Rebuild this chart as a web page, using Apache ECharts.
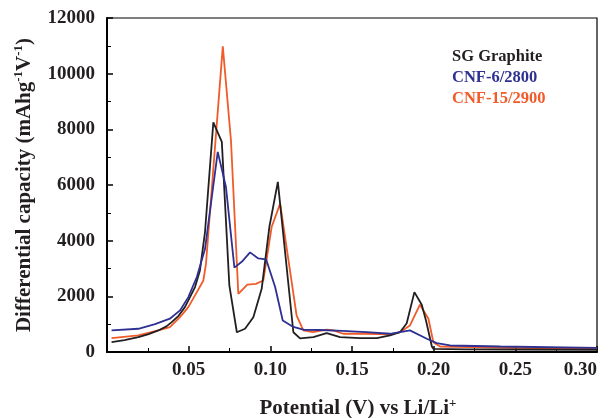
<!DOCTYPE html>
<html>
<head>
<meta charset="utf-8">
<script src="https://cdn.jsdelivr.net/npm/echarts@6/dist/echarts.min.js"></script>
<style>html,body{margin:0;padding:0;background:#fff;}#c{width:609px;height:418px;}</style>
</head>
<body>
<div id="c"></div>
<script>
const seriesNames = ['SG Graphite', 'CNF-6/2800', 'CNF-15/2900'];

const sgX = [0.0028, 0.0107, 0.0192, 0.0255, 0.0314, 0.0364, 0.0396, 0.0438, 0.0477, 0.0539, 0.0569, 0.0600, 0.0651, 0.0703, 0.0749, 0.0795, 0.0845, 0.0896, 0.0947, 0.0994, 0.1046, 0.1141, 0.1182, 0.1263, 0.1345, 0.1427, 0.1549, 0.1652, 0.1733, 0.1794, 0.1835, 0.1882, 0.1927, 0.1953, 0.1989, 0.1998, 0.22, 0.25, 0.30];
const sgY = [353, 430, 532, 640, 774, 920, 1072, 1300, 1612, 2331, 2932, 4310, 8250, 7550, 2390, 710, 835, 1250, 2270, 4490, 6110, 710, 490, 532, 676, 532, 497, 497, 594, 712, 1036, 2152, 1698, 1133, 198, 115, 95, 90, 80];

const cnf6X = [0.0028, 0.0192, 0.0294, 0.0385, 0.0447, 0.0498, 0.0550, 0.0600, 0.0678, 0.0728, 0.0780, 0.0825, 0.0876, 0.0926, 0.0974, 0.1029, 0.1076, 0.1141, 0.1202, 0.1305, 0.1441, 0.1589, 0.1733, 0.1855, 0.1958, 0.2019, 0.2100, 0.2407, 0.30];
const cnf6Y = [774, 835, 1000, 1196, 1494, 1972, 2694, 3700, 7190, 5940, 3030, 3240, 3580, 3360, 3330, 2345, 1130, 900, 800, 790, 760, 714, 655, 775, 475, 317, 234, 198, 151];

const cnf15X = [0.0028, 0.0192, 0.0314, 0.0385, 0.0447, 0.0498, 0.0550, 0.0590, 0.0606, 0.0709, 0.0759, 0.0804, 0.0859, 0.0912, 0.0957, 0.1008, 0.1060, 0.1161, 0.1202, 0.1261, 0.1345, 0.1386, 0.1447, 0.1589, 0.1733, 0.1794, 0.1855, 0.1916, 0.1968, 0.1998, 0.2039, 0.25, 0.30];
const cnf15Y = [497, 594, 774, 895, 1253, 1612, 2152, 2570, 3170, 10980, 7600, 2090, 2420, 2450, 2570, 4490, 5330, 1310, 775, 715, 800, 775, 655, 655, 630, 714, 955, 1700, 1196, 353, 198, 150, 115];

const xTicks = ['0.05', '0.10', '0.15', '0.20', '0.25', '0.30'];
const yTicks = ['0', '2000', '4000', '6000', '8000', '10000', '12000'];

const colors = ['#231f20', '#2e3192', '#f15a29'];
const FONT = '"Liberation Serif", "Times New Roman", serif';

function pairs(xs, ys) { return xs.map((x, i) => [x, ys[i]]); }

const nameRich = {
  a: {fontFamily: FONT, fontWeight: 'bold', fontSize: 21, color: '#231f20', lineHeight: 24},
  s: {fontFamily: FONT, fontWeight: 'bold', fontSize: 13, color: '#231f20', verticalAlign: 'top', lineHeight: 24, padding: [0, 0, 11, 0]}
};

const chart = echarts.init(document.getElementById('c'), null, {renderer: 'canvas'});
const axisLineStyle = {color: '#000', width: 2};
chart.setOption({
  animation: false,
  grid: {left: 107, top: 18, right: 12, bottom: 66, outerBoundsMode: 'none', containLabel: false, show: true, borderColor: '#000', borderWidth: 1.2},
  legend: {
    orient: 'vertical', left: 447, top: 48, padding: 0, itemGap: 4, itemWidth: 0, itemHeight: 0, icon: 'none',
    selectedMode: false,
    textStyle: {fontFamily: FONT, fontWeight: 'bold', fontSize: 16.5, padding: 0},
    data: seriesNames.map((n, i) => ({name: n, textStyle: {color: colors[i]}}))
  },
  xAxis: {
    type: 'value', min: 0, max: 0.3, interval: 0.05,
    axisLine: {lineStyle: axisLineStyle},
    axisTick: {inside: true, length: 6, lineStyle: {color: '#000', width: 1.5}},
    minorTick: {show: true, splitNumber: 2, length: 4, lineStyle: {color: '#000', width: 1}},
    splitLine: {show: false},
    axisLabel: {
      margin: 9, color: '#231f20', fontFamily: FONT, fontWeight: 'bold', fontSize: 19,
      alignMaxLabel: 'right',
      formatter: function (v) { const s = v.toFixed(2); return xTicks.indexOf(s) >= 0 ? s : ''; }
    },
    name: '{a|Potential (V) vs Li/Li}{s|+}',
    nameLocation: 'middle', nameGap: 45,
    nameTextStyle: {rich: nameRich, padding: [0, 0, 0, 12]}
  },
  yAxis: {
    type: 'value', min: 0, max: 12000, interval: 2000,
    axisLine: {lineStyle: axisLineStyle},
    axisTick: {inside: true, length: 6, lineStyle: {color: '#000', width: 1.5}},
    minorTick: {show: true, splitNumber: 2, length: 4, lineStyle: {color: '#000', width: 1}},
    splitLine: {show: false},
    axisLabel: {
      margin: 12, color: '#231f20', fontFamily: FONT, fontWeight: 'bold', fontSize: 19,
      formatter: function (v) { const s = String(v); return yTicks.indexOf(s) >= 0 ? s : ''; }
    },
    name: '{a|Differential capacity (mAhg}{s|-1}{a|V}{s|-1}{a|)}',
    nameLocation: 'middle', nameGap: 69, nameRotate: 90,
    nameTextStyle: {rich: nameRich}
  },
  series: [
    {name: seriesNames[0], type: 'line', data: pairs(sgX, sgY), showSymbol: false, symbol: 'none', lineStyle: {color: colors[0], width: 1.8}, itemStyle: {color: colors[0]}, z: 3},
    {name: seriesNames[1], type: 'line', data: pairs(cnf6X, cnf6Y), showSymbol: false, symbol: 'none', lineStyle: {color: colors[1], width: 1.8}, itemStyle: {color: colors[1]}, z: 4},
    {name: seriesNames[2], type: 'line', data: pairs(cnf15X, cnf15Y), showSymbol: false, symbol: 'none', lineStyle: {color: colors[2], width: 1.8}, itemStyle: {color: colors[2]}, z: 2}
  ]
});
</script>
</body>
</html>
